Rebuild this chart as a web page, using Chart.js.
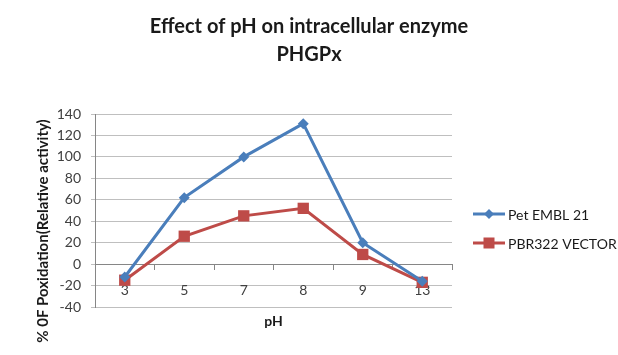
<!DOCTYPE html>
<html>
<head>
<meta charset="utf-8">
<script src="https://cdn.jsdelivr.net/npm/chart.js@4/dist/chart.umd.min.js"></script>
<style>
html,body{margin:0;padding:0;background:#fff;}
#wrap{width:618px;height:355px;position:relative;}
</style>
</head>
<body>
<div id="wrap"><canvas id="c" width="618" height="355"></canvas></div>
<script>
const categories = ['3', '5', '7', '8', '9', '13'];
const petEMBL21 = [-12, 62, 100, 131, 20, -16];
const pbr322Vector = [-15, 26, 45, 52, 9, -17];
const seriesNames = ['Pet EMBL 21', 'PBR322 VECTOR'];
const titleLines = ['Effect of pH on intracellular enzyme', 'PHGPx'];
const xTitle = 'pH';
const yTitle = '% 0F Poxidation(Relative activity)';
const yMin = -40, yMax = 140, yStep = 20;

const FONT = 'Lato, "Open Sans", sans-serif';

const textPlugin = {
  id: 'texts',
  afterDraw(chart) {
    const ctx = chart.ctx;
    const area = chart.chartArea;
    ctx.save();
    ctx.fillStyle = '#1a1a1a';
    ctx.textAlign = 'center';
    ctx.textBaseline = 'middle';
    // main title
    ctx.font = 'bold 20px ' + FONT;
    ctx.fillText(titleLines[0], 309, 27);
    ctx.fillText(titleLines[1], 309, 55);
    // x title
    ctx.font = 'bold 14px ' + FONT;
    ctx.fillText(xTitle, (area.left + area.right) / 2, 321);
    // y title
    ctx.save();
    ctx.translate(43, 231);
    ctx.rotate(-Math.PI / 2);
    ctx.font = 'bold 15px ' + FONT;
    ctx.fillText(yTitle, 0, 0);
    ctx.restore();
    // legend
    const ys = [214, 243];
    chart.data.datasets.forEach((ds, i) => {
      const y = ys[i];
      ctx.strokeStyle = ds.borderColor;
      ctx.lineWidth = 3;
      ctx.beginPath();
      ctx.moveTo(473, y);
      ctx.lineTo(505, y);
      ctx.stroke();
      ctx.fillStyle = ds.backgroundColor;
      const cx = 489;
      if (ds.pointStyle === 'rectRot') {
        ctx.beginPath();
        ctx.moveTo(cx, y - 5);
        ctx.lineTo(cx + 5, y);
        ctx.lineTo(cx, y + 5);
        ctx.lineTo(cx - 5, y);
        ctx.closePath();
        ctx.fill();
      } else {
        ctx.fillRect(cx - 5.5, y - 5.5, 11, 11);
      }
      ctx.fillStyle = '#1a1a1a';
      ctx.font = '14px ' + FONT;
      ctx.textBaseline = 'middle';
      ctx.textAlign = 'left';
      ctx.fillText(ds.label, 508, y + 1);
    });
    ctx.restore();
  }
};

new Chart(document.getElementById('c'), {
  type: 'line',
  data: {
    labels: categories,
    datasets: [
      {
        label: seriesNames[0],
        data: petEMBL21,
        borderColor: '#4A7EBB',
        backgroundColor: '#4A7EBB',
        borderWidth: 3,
        pointStyle: 'rectRot',
        pointRadius: 5.5,
        pointHoverRadius: 5.5,
        pointBorderWidth: 0,
        tension: 0
      },
      {
        label: seriesNames[1],
        data: pbr322Vector,
        borderColor: '#BE4B48',
        backgroundColor: '#BE4B48',
        borderWidth: 3,
        pointStyle: 'rect',
        pointRadius: 8,
        pointHoverRadius: 8,
        pointBorderWidth: 0,
        tension: 0
      }
    ]
  },
  options: {
    responsive: false,
    animation: false,
    devicePixelRatio: 1,
    layout: { padding: { left: 0, right: 166, top: 114, bottom: 48 } },
    plugins: {
      legend: { display: false },
      tooltip: { enabled: false },
      title: { display: false }
    },
    scales: {
      x: {
        type: 'category',
        position: { y: 0 },
        offset: true,
        grid: {
          offset: true,
          drawOnChartArea: false,
          drawTicks: true,
          tickLength: 5,
          color: '#868686'
        },
        border: { display: true, color: '#868686', width: 1 },
        ticks: {
          color: '#404040',
          font: { family: FONT, size: 14 },
          padding: 13,
          maxRotation: 0,
          autoSkip: false
        }
      },
      y: {
        min: yMin,
        max: yMax,
        afterFit(scale) { scale.width = 95; },
        grid: {
          color: '#bfbfbf',
          tickLength: 4,
          drawTicks: true
        },
        border: { display: true, color: '#868686', width: 1 },
        ticks: {
          stepSize: yStep,
          color: '#404040',
          font: { family: FONT, size: 14 },
          padding: 10
        }
      }
    }
  },
  plugins: [textPlugin]
});
</script>
</body>
</html>
